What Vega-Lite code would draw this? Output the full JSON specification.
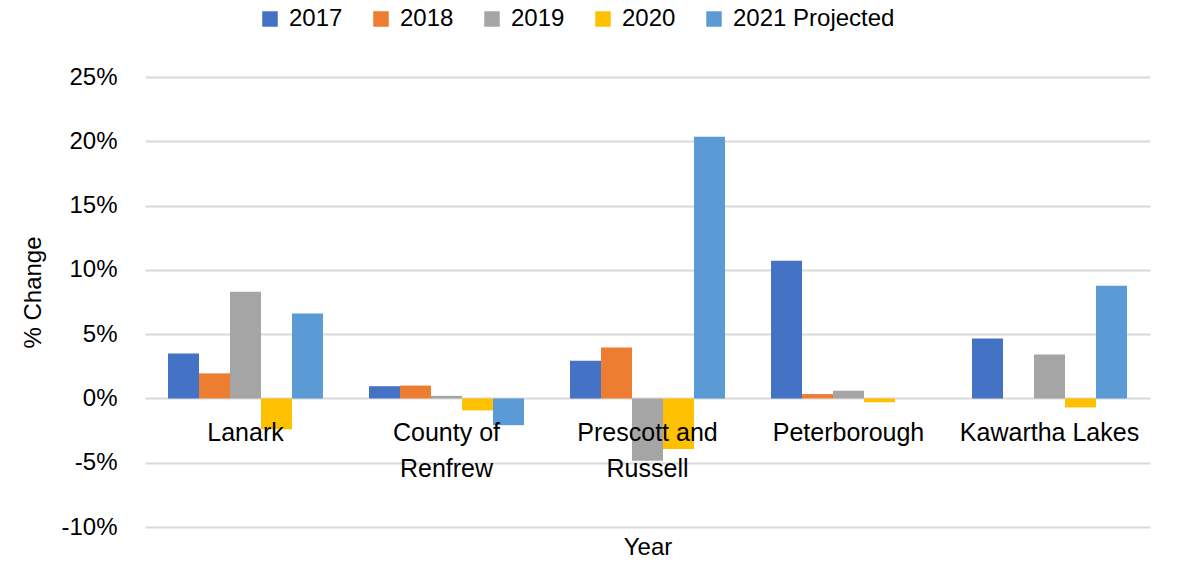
{
  "$schema": "https://vega.github.io/schema/vega-lite/v6.json",
  "autosize": "none",
  "width": 1005,
  "height": 450,
  "padding": {"left": 145, "top": 77, "right": 28, "bottom": 37},
  "background": "white",
  "config": {
    "font": "Liberation Sans",
    "view": {"stroke": null}
  },
  "data": {
    "values": [
      {"region": "Lanark", "year": "2017", "change": 0.035},
      {"region": "Lanark", "year": "2018", "change": 0.0195},
      {"region": "Lanark", "year": "2019", "change": 0.083},
      {"region": "Lanark", "year": "2020", "change": -0.024},
      {"region": "Lanark", "year": "2021 Projected", "change": 0.066},
      {"region": "County of Renfrew", "year": "2017", "change": 0.0095},
      {"region": "County of Renfrew", "year": "2018", "change": 0.01},
      {"region": "County of Renfrew", "year": "2019", "change": 0.002},
      {"region": "County of Renfrew", "year": "2020", "change": -0.0093},
      {"region": "County of Renfrew", "year": "2021 Projected", "change": -0.0208},
      {"region": "Prescott and Russell", "year": "2017", "change": 0.0293},
      {"region": "Prescott and Russell", "year": "2018", "change": 0.0397},
      {"region": "Prescott and Russell", "year": "2019", "change": -0.0485},
      {"region": "Prescott and Russell", "year": "2020", "change": -0.0394},
      {"region": "Prescott and Russell", "year": "2021 Projected", "change": 0.2035},
      {"region": "Peterborough", "year": "2017", "change": 0.107},
      {"region": "Peterborough", "year": "2018", "change": 0.0034},
      {"region": "Peterborough", "year": "2019", "change": 0.006},
      {"region": "Peterborough", "year": "2020", "change": -0.003},
      {"region": "Kawartha Lakes", "year": "2017", "change": 0.0467},
      {"region": "Kawartha Lakes", "year": "2019", "change": 0.0342},
      {"region": "Kawartha Lakes", "year": "2020", "change": -0.007},
      {"region": "Kawartha Lakes", "year": "2021 Projected", "change": 0.0876}
    ]
  },
  "mark": {"type": "bar"},
  "encoding": {
    "x": {
      "field": "region",
      "type": "nominal",
      "sort": ["Lanark", "County of Renfrew", "Prescott and Russell", "Peterborough", "Kawartha Lakes"],
      "scale": {"paddingInner": 0.229, "paddingOuter": 0.1145},
      "axis": {
        "title": "Year",
        "titleFontSize": 24,
        "titleFontWeight": "normal",
        "titleColor": "#000000",
        "titleY": 149,
        "titleBaseline": "middle",
        "offset": -129,
        "zindex": 1,
        "domain": false,
        "ticks": false,
        "labelAngle": 0,
        "labelFontSize": 25,
        "labelColor": "#000000",
        "labelPadding": 22,
        "labelLineHeight": 36,
        "labelExpr": "datum.value == 'County of Renfrew' ? ['County of', 'Renfrew'] : datum.value == 'Prescott and Russell' ? ['Prescott and', 'Russell'] : datum.value"
      }
    },
    "xOffset": {
      "field": "year",
      "type": "nominal",
      "sort": ["2017", "2018", "2019", "2020", "2021 Projected"],
      "scale": {"paddingInner": 0, "paddingOuter": 0}
    },
    "y": {
      "field": "change",
      "type": "quantitative",
      "scale": {"domain": [-0.1, 0.25], "nice": false, "zero": true},
      "axis": {
        "title": "% Change",
        "titleFontSize": 24,
        "titleFontWeight": "normal",
        "titleColor": "#000000",
        "titleAngle": 270,
        "titleX": -112,
        "titleY": 215,
        "titleAlign": "center",
        "titleBaseline": "middle",
        "values": [-0.1, -0.05, 0, 0.05, 0.1, 0.15, 0.2, 0.25],
        "labelExpr": "replace(format(datum.value, '.0%'), '\u2212', '-')",
        "domain": false,
        "ticks": false,
        "labelFontSize": 24,
        "labelColor": "#000000",
        "labelPadding": 28,
        "grid": true,
        "gridColor": "#d9d9d9",
        "gridWidth": 2
      }
    },
    "color": {
      "field": "year",
      "type": "nominal",
      "scale": {
        "domain": ["2017", "2018", "2019", "2020", "2021 Projected"],
        "range": ["#4472C4", "#ED7D31", "#A5A5A5", "#FFC000", "#5B9BD5"]
      },
      "legend": {
        "title": null,
        "orient": "none",
        "direction": "horizontal",
        "legendX": 113,
        "legendY": -70,
        "symbolType": "square",
        "symbolSize": 240,
        "symbolStrokeWidth": 0,
        "symbolOpacity": 1,
        "labelFontSize": 24,
        "labelColor": "#000000",
        "labelLimit": 400,
        "labelOffset": 7,
        "columnPadding": 26,
        "padding": 0
      }
    }
  }
}
